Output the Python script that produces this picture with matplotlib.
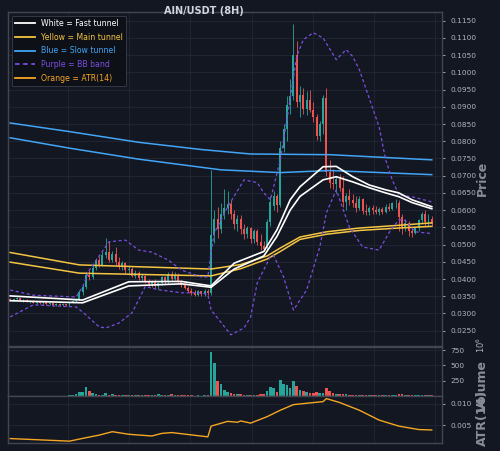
import matplotlib
matplotlib.use("Agg")
import matplotlib.pyplot as plt
from matplotlib.lines import Line2D
from matplotlib.ticker import FixedLocator, FormatStrFormatter, FuncFormatter
import numpy as np

# ---- candles (8H) ----
opens = [
    0.0342, 0.0339, 0.0341, 0.0344, 0.0338, 0.0340, 0.0335, 0.0337, 0.0331, 0.0334,
    0.0329, 0.0332, 0.0327, 0.0329, 0.0325, 0.0328, 0.0324, 0.0327, 0.0325, 0.0331,
    0.0336, 0.0343, 0.0362, 0.0378, 0.0412, 0.0405, 0.0432, 0.0455, 0.0442, 0.0470,
    0.0478, 0.0455, 0.0472, 0.0448, 0.0438, 0.0446, 0.0425, 0.0430, 0.0410, 0.0418,
    0.0402, 0.0408, 0.0392, 0.0385, 0.0394, 0.0380, 0.0388, 0.0405, 0.0390, 0.0415,
    0.0400, 0.0412, 0.0392, 0.0382, 0.0374, 0.0366, 0.0360, 0.0355, 0.0364, 0.0356,
    0.0366, 0.0360, 0.0528, 0.0575, 0.0545, 0.0590, 0.0605, 0.0618, 0.0590, 0.0560,
    0.0575, 0.0545, 0.0530, 0.0548, 0.0515, 0.0540, 0.0508, 0.0495, 0.0490, 0.0565,
    0.0612, 0.0640, 0.0615, 0.0780, 0.0835, 0.0905, 0.0930, 0.1050, 0.0915, 0.0935,
    0.0895, 0.0920, 0.0890, 0.0870, 0.0815, 0.0850, 0.0925, 0.0712, 0.0680, 0.0675,
    0.0690, 0.0665, 0.0625, 0.0640, 0.0630, 0.0620, 0.0605, 0.0632, 0.0598, 0.0595,
    0.0605, 0.0600, 0.0594, 0.0603, 0.0596, 0.0610, 0.0604, 0.0620, 0.0622, 0.0580,
    0.0552, 0.0562, 0.0540, 0.0535, 0.0548, 0.0570, 0.0588, 0.0565, 0.0575,
]
highs = [
    0.0346, 0.0344, 0.0347, 0.0346, 0.0343, 0.0342, 0.0339, 0.0338, 0.0336, 0.0335,
    0.0334, 0.0333, 0.0331, 0.0330, 0.0330, 0.0329, 0.0329, 0.0328, 0.0333, 0.0338,
    0.0345, 0.0368, 0.0385, 0.0420, 0.0425, 0.0440, 0.0462, 0.0468, 0.0480, 0.0520,
    0.0510, 0.0482, 0.0492, 0.0465, 0.0452, 0.0450, 0.0438, 0.0435, 0.0425, 0.0422,
    0.0415, 0.0412, 0.0400, 0.0398, 0.0400, 0.0392, 0.0410, 0.0408, 0.0420, 0.0422,
    0.0420, 0.0418, 0.0398, 0.0390, 0.0380, 0.0375, 0.0368, 0.0368, 0.0366, 0.0370,
    0.0372, 0.0717, 0.0600, 0.0610, 0.0620, 0.0660, 0.0655, 0.0630, 0.0600, 0.0585,
    0.0585, 0.0560, 0.0555, 0.0552, 0.0545, 0.0545, 0.0530, 0.0510, 0.0575, 0.0640,
    0.0655, 0.0648, 0.0800, 0.0850, 0.0930, 0.0980, 0.1139, 0.1090, 0.0960, 0.0955,
    0.0945, 0.0950, 0.0915, 0.0880, 0.0860, 0.0935, 0.0955, 0.0745, 0.0720, 0.0700,
    0.0705, 0.0700, 0.0650, 0.0660, 0.0648, 0.0640, 0.0640, 0.0635, 0.0618, 0.0612,
    0.0615, 0.0612, 0.0608, 0.0610, 0.0618, 0.0622, 0.0625, 0.0632, 0.0630, 0.0590,
    0.0575, 0.0568, 0.0550, 0.0552, 0.0575, 0.0595, 0.0600, 0.0590, 0.0582,
]
lows = [
    0.0336, 0.0335, 0.0338, 0.0336, 0.0334, 0.0333, 0.0331, 0.0329, 0.0328, 0.0327,
    0.0326, 0.0325, 0.0324, 0.0323, 0.0322, 0.0321, 0.0321, 0.0322, 0.0323, 0.0329,
    0.0334, 0.0340, 0.0355, 0.0372, 0.0398, 0.0400, 0.0425, 0.0435, 0.0438, 0.0462,
    0.0448, 0.0450, 0.0440, 0.0430, 0.0425, 0.0418, 0.0412, 0.0405, 0.0402, 0.0398,
    0.0395, 0.0388, 0.0380, 0.0378, 0.0375, 0.0372, 0.0383, 0.0385, 0.0386, 0.0395,
    0.0396, 0.0388, 0.0378, 0.0370, 0.0362, 0.0355, 0.0350, 0.0352, 0.0350, 0.0352,
    0.0354, 0.0355, 0.0505, 0.0520, 0.0535, 0.0575, 0.0590, 0.0575, 0.0545, 0.0540,
    0.0530, 0.0515, 0.0520, 0.0505, 0.0505, 0.0500, 0.0485, 0.0482, 0.0485, 0.0555,
    0.0600, 0.0595, 0.0610, 0.0770, 0.0800, 0.0880, 0.0920, 0.0900, 0.0870, 0.0880,
    0.0875, 0.0885, 0.0855, 0.0805, 0.0800, 0.0820, 0.0700, 0.0665, 0.0660, 0.0650,
    0.0655, 0.0610, 0.0600, 0.0615, 0.0610, 0.0595, 0.0600, 0.0590, 0.0585, 0.0585,
    0.0590, 0.0588, 0.0585, 0.0590, 0.0592, 0.0598, 0.0600, 0.0605, 0.0540, 0.0530,
    0.0540, 0.0525, 0.0522, 0.0530, 0.0540, 0.0562, 0.0555, 0.0555, 0.0555,
]
closes = [
    0.0339, 0.0341, 0.0344, 0.0338, 0.0340, 0.0335, 0.0337, 0.0331, 0.0334, 0.0329,
    0.0332, 0.0327, 0.0329, 0.0325, 0.0328, 0.0324, 0.0327, 0.0325, 0.0331, 0.0336,
    0.0343, 0.0362, 0.0378, 0.0412, 0.0405, 0.0432, 0.0455, 0.0442, 0.0470, 0.0478,
    0.0455, 0.0472, 0.0448, 0.0438, 0.0446, 0.0425, 0.0430, 0.0410, 0.0418, 0.0402,
    0.0408, 0.0392, 0.0385, 0.0394, 0.0380, 0.0388, 0.0405, 0.0390, 0.0415, 0.0400,
    0.0412, 0.0392, 0.0382, 0.0374, 0.0366, 0.0360, 0.0355, 0.0364, 0.0356, 0.0366,
    0.0360, 0.0528, 0.0575, 0.0545, 0.0590, 0.0605, 0.0618, 0.0590, 0.0560, 0.0575,
    0.0545, 0.0530, 0.0548, 0.0515, 0.0540, 0.0508, 0.0495, 0.0488, 0.0565, 0.0625,
    0.0640, 0.0615, 0.0780, 0.0835, 0.0905, 0.0930, 0.1050, 0.0915, 0.0935, 0.0895,
    0.0920, 0.0890, 0.0870, 0.0815, 0.0850, 0.0925, 0.0712, 0.0680, 0.0675, 0.0690,
    0.0665, 0.0625, 0.0640, 0.0630, 0.0620, 0.0605, 0.0632, 0.0598, 0.0595, 0.0605,
    0.0600, 0.0594, 0.0603, 0.0596, 0.0610, 0.0604, 0.0620, 0.0622, 0.0580, 0.0552,
    0.0562, 0.0540, 0.0535, 0.0548, 0.0570, 0.0588, 0.0565, 0.0575, 0.0560,
]
# volume in millions
volumes = [
    3, 2, 3, 2, 2, 3, 2, 2, 3, 2, 2, 2, 3, 2, 2, 2, 3, 2, 4, 6,
    30, 60, 60, 150, 85, 45, 20, 15, 10, 45, 15, 20, 8, 6, 5, 6, 5, 4, 5, 4,
    5, 4, 6, 8, 15, 20, 12, 18, 10, 20, 8, 6, 5, 4, 5, 4, 3, 4, 3, 5,
    6, 724, 544, 234, 191, 98, 67, 40, 30, 25, 20, 18, 15, 15, 12, 15, 20, 25, 80, 150,
    120, 60, 260, 200, 180, 120, 250, 160, 90, 70, 60, 50, 45, 60, 40, 50, 120, 70, 40, 30,
    25, 30, 20, 18, 15, 15, 12, 15, 10, 10, 8, 10, 8, 10, 12, 10, 12, 15, 25, 20,
    15, 18, 12, 10, 12, 18, 15, 10, 8,
]

# ---- indicator lines (value at candle index) ----
fast_idx = [0, 22, 36, 52, 61, 68, 77, 81, 85, 88, 95, 99, 104, 109, 114, 118, 122, 128]
fast_upper = [0.0351, 0.0339, 0.0392, 0.0393, 0.0380, 0.0446, 0.0480, 0.0543, 0.0630,
              0.0668, 0.0726, 0.0727, 0.0697, 0.0673, 0.0659, 0.0650, 0.0630, 0.0610]
fast_lower = [0.0337, 0.0331, 0.0380, 0.0386, 0.0376, 0.0429, 0.0467, 0.0524, 0.0600,
              0.0640, 0.0688, 0.0697, 0.0682, 0.0665, 0.0650, 0.0639, 0.0622, 0.0604]

main_idx = [0, 21, 61, 70, 78, 82, 88, 96, 106, 118, 128]
main_upper = [0.0477, 0.0441, 0.0429, 0.0442, 0.0467, 0.0490, 0.0522, 0.0537, 0.0548, 0.0556, 0.0563]
main_lower = [0.0449, 0.0417, 0.0409, 0.0430, 0.0458, 0.0480, 0.0515, 0.0530, 0.0541, 0.0548, 0.0553]

slow_up_idx = [0, 18, 39, 58, 73, 97, 128]
slow_upper = [0.0853, 0.0828, 0.0797, 0.0776, 0.0763, 0.0761, 0.0746]
slow_lo_idx = [0, 18, 39, 64, 82, 97, 128]
slow_lower = [0.0810, 0.0780, 0.0748, 0.0717, 0.0709, 0.0715, 0.0703]

bb_up_idx = [0, 7, 20, 22, 24, 30, 35, 39, 43, 48, 52, 58, 60, 61, 62, 66, 71, 75, 77, 79,
             82, 84, 87, 89, 92, 95, 99, 102, 104, 106, 112, 114, 116, 118, 122, 128]
bb_upper = [0.0368, 0.0353, 0.0348, 0.0377, 0.0426, 0.0508, 0.0513, 0.0484, 0.0478, 0.0455,
            0.0426, 0.0406, 0.0406, 0.0480, 0.0534, 0.0609, 0.0688, 0.0680, 0.0650, 0.0630,
            0.0746, 0.0862, 0.1047, 0.1095, 0.1115, 0.1100, 0.1037, 0.1066, 0.1046, 0.1008,
            0.0842, 0.0746, 0.0688, 0.0644, 0.0639, 0.0624]
bb_lo_idx = [0, 7, 20, 22, 27, 29, 33, 37, 41, 45, 52, 58, 60, 61, 67, 71, 73, 75, 79, 80,
             83, 86, 90, 94, 96, 99, 103, 107, 112, 115, 118, 120, 123, 128]
bb_lower = [0.0290, 0.0325, 0.0319, 0.0304, 0.0261, 0.0258, 0.0272, 0.0302, 0.0378, 0.0369,
            0.0360, 0.0360, 0.0355, 0.0310, 0.0238, 0.0258, 0.0290, 0.0389, 0.0465, 0.0468,
            0.0406, 0.0310, 0.0368, 0.0493, 0.0592, 0.0659, 0.0550, 0.0493, 0.0484, 0.0534,
            0.0572, 0.0570, 0.0537, 0.0532]

atr_idx = [0, 18, 23, 27, 31, 36, 43, 46, 49, 60, 61, 66, 69, 70, 73, 78, 82, 86, 91, 95,
           96, 100, 106, 112, 118, 124, 128]
atr = [0.0019, 0.0013, 0.0021, 0.0027, 0.0035, 0.0029, 0.0025, 0.0031, 0.0033, 0.0023,
       0.0048, 0.0059, 0.0057, 0.0060, 0.0055, 0.0070, 0.0085, 0.0098, 0.0102, 0.0105,
       0.0112, 0.0103, 0.0085, 0.0062, 0.0048, 0.0040, 0.0039]

# ---- style ----
BG = "#131722"
GRID = "#232734"
SPINE = "#434651"
TXT = "#b2b5be"
LBL = "#8a8d96"
UP, DOWN = "#26a69a", "#ef5350"
WHITE, YELLOW, BLUE, PURPLE, ORANGE = "#ffffff", "#f5c542", "#42a5f5", "#7b4ee0", "#f5a623"

fig = plt.figure(figsize=(5, 4.51), dpi=100, facecolor=BG)
ax = fig.add_axes([0.016, 0.2328, 0.868, 0.7413])
axv = fig.add_axes([0.016, 0.1226, 0.868, 0.1073], sharex=ax)
axa = fig.add_axes([0.016, 0.0171, 0.868, 0.1038], sharex=ax)

o, h, l, c = (np.array(v) for v in (opens, highs, lows, closes))
x = np.arange(len(c))
col = np.where(c >= o, UP, DOWN)

ax.vlines(x, l, h, colors=col, lw=0.6, zorder=2)
ax.bar(x, np.maximum(np.abs(c - o), 0.00008), bottom=np.minimum(o, c), width=0.6,
       color=col, linewidth=0, zorder=3)

ax.plot(slow_up_idx, slow_upper, color=BLUE, lw=1.1, zorder=4)
ax.plot(slow_lo_idx, slow_lower, color=BLUE, lw=1.1, zorder=4)
ax.plot(main_idx, main_upper, color=YELLOW, lw=1.1, zorder=4)
ax.plot(main_idx, main_lower, color=YELLOW, lw=1.1, zorder=4)
ax.plot(bb_up_idx, bb_upper, color=PURPLE, lw=0.9, ls=(0, (2.5, 2)), zorder=4)
ax.plot(bb_lo_idx, bb_lower, color=PURPLE, lw=0.9, ls=(0, (2.5, 2)), zorder=4)
ax.plot(fast_idx, fast_upper, color=WHITE, lw=1.2, zorder=5)
ax.plot(fast_idx, fast_lower, color=WHITE, lw=1.2, zorder=5)

axv.bar(x, np.array(volumes) * 1e6, width=0.8, color=col, linewidth=0)
axa.plot(atr_idx, atr, color=ORANGE, lw=1.0)

xgrid = [17.55, 36.1, 54.6, 73.4, 92.0, 110.5, 129.0]
for a in (ax, axv, axa):
    a.set_facecolor(BG)
    a.yaxis.tick_right()
    a.yaxis.set_label_position("right")
    a.xaxis.set_major_locator(FixedLocator(xgrid))
    a.tick_params(axis="x", length=0, labelbottom=False)
    a.tick_params(axis="y", colors=TXT, labelsize=5.3, length=2.5, width=0.6)
    a.grid(True, color=GRID, lw=0.6)
    a.set_axisbelow(True)
    for s in a.spines.values():
        s.set_color(SPINE)
        s.set_linewidth(1.0)

ax.set_xlim(-0.67, 131.1)
ax.set_ylim(0.02055, 0.11762)
ax.yaxis.set_major_locator(FixedLocator(np.arange(0.025, 0.1151, 0.005)))
ax.yaxis.set_major_formatter(FormatStrFormatter("%.4f"))
ax.set_ylabel("Price", color=LBL, fontsize=9, fontweight="bold")
ax.yaxis.set_label_coords(1.078, 0.5)

axv.set_ylim(0, 796e6)
axv.yaxis.set_major_locator(FixedLocator([250e6, 500e6, 750e6]))
axv.yaxis.set_major_formatter(FuncFormatter(lambda v, p: f"{v / 1e6:.0f}"))
axv.set_ylabel("Volume", color=LBL, fontsize=9, fontweight="bold")
axv.yaxis.set_label_coords(1.078, 0.2)
axv.text(1.09, 0.88, r"$10^{6}$", transform=axv.transAxes, rotation=90, color=TXT,
         fontsize=6, ha="left", va="center", rotation_mode="anchor")

axa.set_ylim(0.0008, 0.0117)
axa.yaxis.set_major_locator(FixedLocator([0.005, 0.010]))
axa.yaxis.set_major_formatter(FormatStrFormatter("%.3f"))
axa.set_ylabel("ATR(14)", color=LBL, fontsize=9, fontweight="bold")
axa.yaxis.set_label_coords(1.078, 0.55)

fig.text(0.408, 1 - 11 / 451, "AIN/USDT (8H)", color="#d1d4dc", fontsize=7,
         fontweight="bold", ha="center", va="center")

handles = [
    Line2D([], [], color=WHITE, lw=1.3),
    Line2D([], [], color=YELLOW, lw=1.3),
    Line2D([], [], color=BLUE, lw=1.3),
    Line2D([], [], color=PURPLE, lw=1.3, ls=(0, (2.5, 2))),
    Line2D([], [], color=ORANGE, lw=1.3),
]
labels = ["White = Fast tunnel", "Yellow = Main tunnel", "Blue = Slow tunnel",
          "Purple = BB band", "Orange = ATR(14)"]
leg = ax.legend(handles, labels, loc="upper left", fontsize=5.6, labelcolor="linecolor",
                handlelength=2.6, labelspacing=0.62, facecolor="#0d1017", edgecolor="#3a3f4b",
                framealpha=1.0, borderaxespad=0.5)
leg.get_frame().set_linewidth(0.6)

fig.savefig("out.png", dpi=100, facecolor=BG)
